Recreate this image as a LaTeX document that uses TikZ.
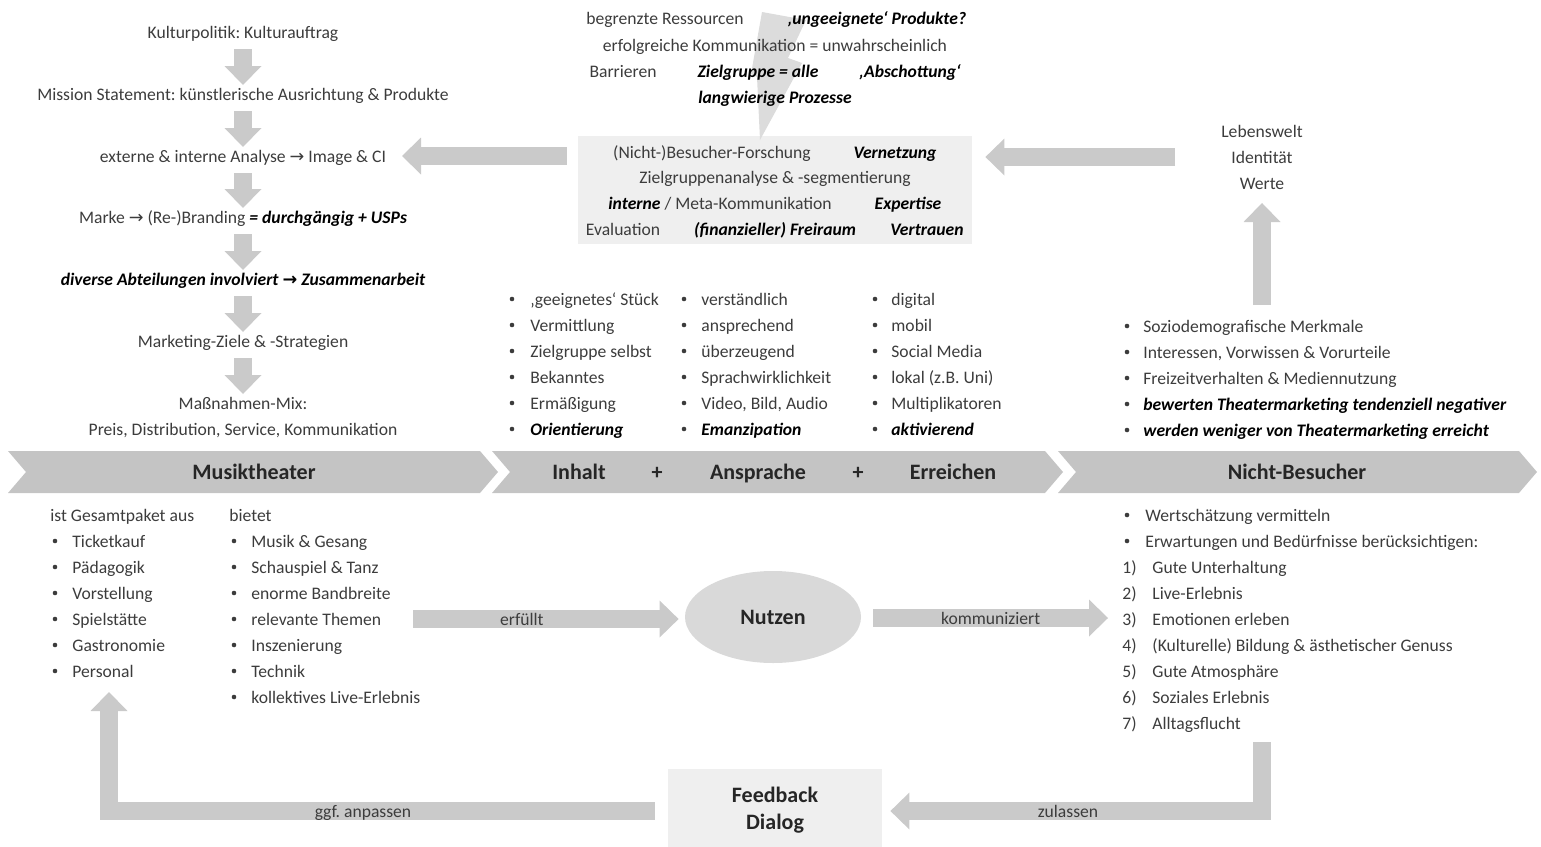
\documentclass[tikz,border=0pt]{standalone}
\usepackage{fontspec}
\setmainfont{Carlito}
\newfontfamily\pfeilfont{DejaVu Sans}
\usetikzlibrary{arrows.meta,shapes.geometric,calc}
\definecolor{pfeilgrau}{HTML}{CACACA}
\definecolor{bandgrau}{HTML}{C4C4C4}
\definecolor{kastengrau}{HTML}{EFEFEF}
\definecolor{ellgrau}{HTML}{D9D9D9}
\definecolor{blitzgrau}{HTML}{DCDCDC}
\definecolor{schrift}{HTML}{3C3C3C}
\newcommand\bfit[1]{\textbf{\textit{\color{black}#1}}}
\newcommand\pfeil{{\pfeilfont →}}
\newcommand\pfeilb{{\pfeilfont\bfseries →}}
\frenchspacing

\begin{document}
\begin{tikzpicture}[x=0.5pt,y=-0.5pt,
    every node/.style={font=\fontsize{8.8}{13}\selectfont,text=schrift,inner sep=0pt,
      text height=7.6pt,text depth=1.6pt},
    lst/.style={anchor=west},
    pkt/.style={circle,fill=schrift,minimum size=2.3pt,text height=,text depth=},
    kopf/.style={font=\fontsize{11}{13.5}\selectfont\bfseries,text=black!85,
      text height=8.8pt,text depth=1.8pt},
    blk/.style={draw=pfeilgrau,line width=9pt,line join=miter,
      -{Triangle[width=18.5pt,length=9.5pt,line width=0pt]}}
  ]
  \useasboundingbox (0,0) rectangle (1541,846);

  % Blitz und Kasten oben
  \node [fill=kastengrau,minimum width=197pt,minimum height=54pt,text height=,text depth=] (forsch) at (775,190) {};
  \fill [blitzgrau] (762,12) -- (806,20) -- (788,58) -- (802,63) -- (760,140)
    -- (757,77) -- (751,74) -- cycle;

  \node (res) at (665,19) {begrenzte Ressourcen};
  \node (ungeeig) at (877,19) {\bfit{‚ungeeignete‘ Produkte?}};
  \node (erfolg) at (775,45) {erfolgreiche Kommunikation = unwahrscheinlich};
  \node (barr) at (623,71) {Barrieren};
  \node (zg) at (758,71) {\bfit{Zielgruppe = alle}};
  \node (absch) at (910,71) {\bfit{‚Abschottung‘}};
  \node (lang) at (775,97) {\bfit{langwierige Prozesse}};

  \node (besfor) at (712,152) {(Nicht-)Besucher-Forschung};
  \node (vernetz) at (895,152) {\bfit{Vernetzung}};
  \node (zganal) at (775,177) {Zielgruppenanalyse \& -segmentierung};
  \node (meta) at (720,203) {\bfit{interne} / Meta-Kommunikation};
  \node (expert) at (908,203) {\bfit{Expertise}};
  \node (eval) at (623,229) {Evaluation};
  \node (frei) at (775,229) {\bfit{(finanzieller) Freiraum}};
  \node (vertr) at (927,229) {\bfit{Vertrauen}};

  % linke Spalte
  \node (kp) at (243,32) {Kulturpolitik: Kulturauftrag};
  \node (ms) at (243,94) {Mission Statement: künstlerische Ausrichtung \& Produkte};
  \node (ana) at (243,156) {externe \& interne Analyse \pfeil{} Image \& CI};
  \node (marke) at (243,217) {Marke \pfeil{} (Re-)Branding \bfit{= durchgängig + USPs}};
  \node (abt) at (243,279) {\bfit{diverse Abteilungen involviert \pfeilb{} Zusammenarbeit}};
  \node (ziele) at (243,341) {Marketing-Ziele \& -Strategien};
  \node (mix) at (243,403) {Maßnahmen-Mix:};
  \node (mix2) at (243,429) {Preis, Distribution, Service, Kommunikation};
  \foreach \a/\b in {kp/ms,ms/ana,ana/marke,marke/abt,abt/ziele,ziele/mix}
    \draw [blk] ($(\a)+(0,17)$) -- ($(\b)+(0,-9)$);
  \draw [blk] ($(forsch.west |- ana)+(-11,0)$) -- ($(ana)+(159,0)$);

  % rechts oben
  \node (lebens) at (1262,131) {Lebenswelt};
  \node (ident) at (1262,157) {Identität};
  \node (werte) at (1262,183) {Werte};
  \draw [blk] ($(ident)+(-87,0)$) -- ($(forsch.east |- ident)+(13,0)$);

  \foreach \eintrag [count=\i] in {Soziodemografische Merkmale,
      {Interessen, Vorwissen \& Vorurteile},Freizeitverhalten \& Mediennutzung,
      \bfit{bewerten Theatermarketing tendenziell negativer},
      \bfit{werden weniger von Theatermarketing erreicht}}{
    \node [pkt] (soz-p\i) at (1127,300+26*\i) {};
    \node [lst] (soz\i) at (1143,300+26*\i) {\eintrag};
  }
  \draw [blk] ($(ident |- soz1)+(0,-21)$) -- ($(werte)+(0,20)$);

  % Inhalt, Ansprache, Erreichen
  \foreach \eintrag [count=\i] in {‚geeignetes‘ Stück,Vermittlung,Zielgruppe selbst,
      Bekanntes,Ermäßigung,\bfit{Orientierung}}{
    \node [pkt] (inh-p\i) at (512,273+26*\i) {};
    \node [lst] (inh\i) at (530,273+26*\i) {\eintrag};
  }
  \foreach \eintrag [count=\i] in {verständlich,ansprechend,überzeugend,
      Sprachwirklichkeit,{Video, Bild, Audio},\bfit{Emanzipation}}{
    \node [pkt] (ansp-p\i) at (684,273+26*\i) {};
    \node [lst] (ansp\i) at (701,273+26*\i) {\eintrag};
  }
  \foreach \eintrag [count=\i] in {digital,mobil,Social Media,lokal (z.B. Uni),
      Multiplikatoren,\bfit{aktivierend}}{
    \node [pkt] (err-p\i) at (875,273+26*\i) {};
    \node [lst] (err\i) at (891,273+26*\i) {\eintrag};
  }

  % Band
  \fill [bandgrau] (8,451) -- (480,451) -- (498,472) -- (480,493) -- (8,493) -- (26,472) -- cycle;
  \fill [bandgrau] (492,451) -- (1045,451) -- (1063,472) -- (1045,493) -- (492,493) -- (510,472) -- cycle;
  \fill [bandgrau] (1058,451) -- (1519,451) -- (1537,472) -- (1519,493) -- (1058,493) -- (1076,472) -- cycle;
  \node [kopf] (musik) at (254,472) {Musiktheater};
  \node [kopf] (inhalt) at (579,472) {Inhalt};
  \node [kopf] (plus1) at (657,472) {+};
  \node [kopf] (ansprache) at (758,472) {Ansprache};
  \node [kopf] (plus2) at (858,472) {+};
  \node [kopf] (erreichen) at (953,472) {Erreichen};
  \node [kopf] (nichtbes) at (1297,472) {Nicht-Besucher};

  % unten links
  \node [lst] (ges) at (50,515) {ist Gesamtpaket aus};
  \foreach \eintrag [count=\i] in {Ticketkauf,Pädagogik,Vorstellung,Spielstätte,
      Gastronomie,Personal}{
    \node [pkt] (ges-p\i) at (55,515+26*\i) {};
    \node [lst] (ges\i) at (72,515+26*\i) {\eintrag};
  }
  \node [lst] (bietet) at (229,515) {bietet};
  \foreach \eintrag [count=\i] in {Musik \& Gesang,Schauspiel \& Tanz,enorme Bandbreite,
      relevante Themen,Inszenierung,Technik,kollektives Live-Erlebnis}{
    \node [pkt] (biet-p\i) at (234,515+26*\i) {};
    \node [lst] (biet\i) at (251,515+26*\i) {\eintrag};
  }

  % Nutzen
  \node [kopf,ellipse,fill=ellgrau,minimum width=88pt,minimum height=46pt] (nutzen) at (773,617) {Nutzen};
  \coordinate (erf-start) at (413,619);
  \coordinate (komm-end) at (1108,618);
  \draw [blk] (erf-start) -- node [pos=0.41] (erf) {erfüllt} ($(nutzen.west)+(-6,2)$);
  \draw [blk] ($(nutzen.east)+(12,1)$) -- node (komm) {kommuniziert} (komm-end);

  % unten rechts
  \node [pkt] (wert-p) at (1127,515) {};
  \node [lst] (wert) at (1145,515) {Wertschätzung vermitteln};
  \node [pkt] (bed-p) at (1127,541) {};
  \node [lst] (bed) at (1145,541) {Erwartungen und Bedürfnisse berücksichtigen:};
  \foreach \eintrag [count=\i] in {Gute Unterhaltung,Live-Erlebnis,Emotionen erleben,
      (Kulturelle) Bildung \& ästhetischer Genuss,Gute Atmosphäre,Soziales Erlebnis,
      Alltagsflucht}{
    \node [lst] (erw-n\i) at (1122,541+26*\i) {\i)};
    \node [lst] (erw\i) at (1152,541+26*\i) {\eintrag};
  }

  % Feedback
  \node [fill=kastengrau,minimum width=107pt,minimum height=39.5pt,text height=,text depth=] (feedback) at (775,808.5) {};
  \node [kopf] (fb1) at (775,795) {Feedback};
  \node [kopf] (fb2) at (775,822) {Dialog};
  \coordinate (ecke-re) at (1262,742);
  \coordinate (ecke-li) at (109,692);
  \draw [blk] (ecke-re) |- ($(feedback.east)+(8,2.5)$);
  \draw [blk] ($(feedback.west)+(-13,2.5)$) -| (ecke-li);
  \node (zulassen) at (1068,811) {zulassen};
  \node (anpassen) at (363,811) {ggf. anpassen};
\end{tikzpicture}
\end{document}
